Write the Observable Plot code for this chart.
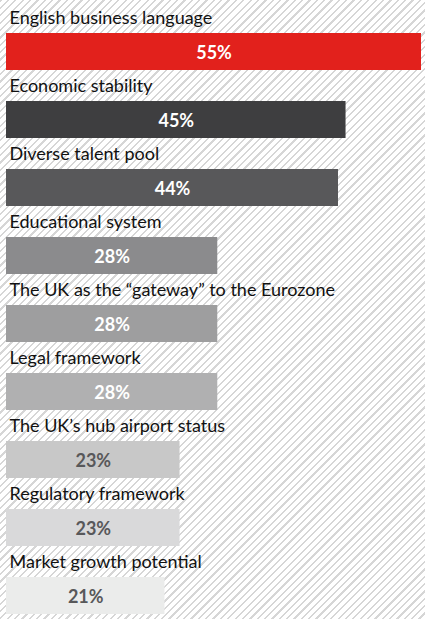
<!DOCTYPE html>
<html>
<head>
<meta charset="utf-8">
<script src="https://cdn.jsdelivr.net/npm/d3@7"></script>
<script src="https://cdn.jsdelivr.net/npm/@observablehq/plot@0.6"></script>
<style>
  html, body { margin: 0; padding: 0; }
  body {
    width: 425px; height: 619px; overflow: hidden;
    background: repeating-linear-gradient(135deg, #d6d6d6 0 1.6px, #ffffff 1.6px 5.2px);
  }
  #chart svg { display: block; background: transparent !important; }
</style>
</head>
<body>
<div id="chart"></div>
<script>
const categories = [
  "English business language",
  "Economic stability",
  "Diverse talent pool",
  "Educational system",
  "The UK as the \u201cgateway\u201d to the Eurozone",
  "Legal framework",
  "The UK\u2019s hub airport status",
  "Regulatory framework",
  "Market growth potential"
];
const values = [55, 45, 44, 28, 28, 28, 23, 23, 21];
const barColors = ["#e2211c", "#3e3e40", "#58585a", "#8b8b8d", "#9e9e9f", "#b0b0b1", "#c8c8c8", "#d9d9da", "#ebeceb"];
const valueTextColors = ["#ffffff", "#ffffff", "#ffffff", "#ffffff", "#ffffff", "#ffffff", "#58585a", "#58585a", "#58585a"];

const data = categories.map((c, i) => ({
  category: c, value: values[i], fill: barColors[i], textFill: valueTextColors[i], label: values[i] + "%"
}));

const chart = Plot.plot({
  width: 425,
  height: 619,
  marginTop: 2,
  marginBottom: 5,
  marginLeft: 6,
  marginRight: 4,
  style: { background: "transparent", fontFamily: "Lato, sans-serif" },
  x: { domain: [0, 55], axis: null },
  y: { domain: categories, axis: null, padding: 0 },
  marks: [
    Plot.barX(data, { x: "value", y: "category", fill: (d) => d.fill, insetTop: 31, insetBottom: 0 }),
    Plot.text(data, { x: 0, y: "category", text: "category", textAnchor: "start", dx: 3, dy: -18, fontSize: 18, fill: "#111111", fontFamily: "Lato, sans-serif" }),
    Plot.text(data, { x: (d) => d.value / 2, y: "category", text: "label", dy: 17, fontSize: 18, fontWeight: "bold", fill: (d) => d.textFill, fontFamily: "Lato, sans-serif" })
  ]
});
document.getElementById("chart").appendChild(chart);
</script>
</body>
</html>
